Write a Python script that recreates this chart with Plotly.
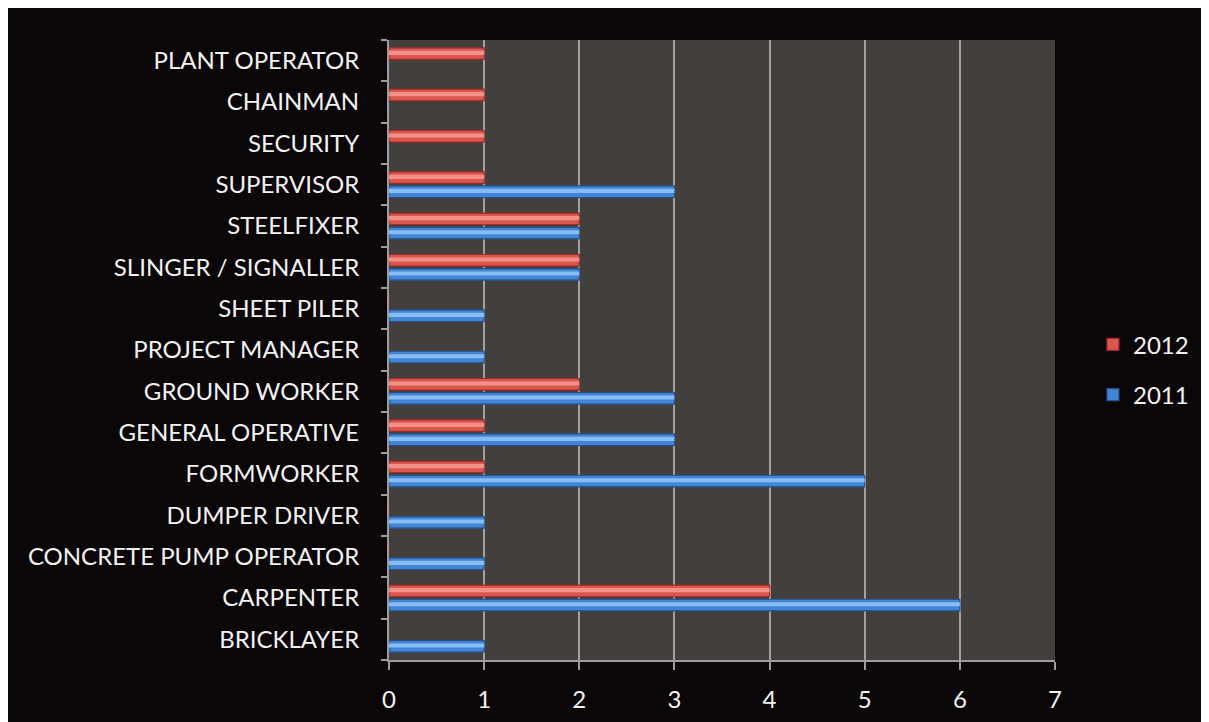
import plotly.graph_objects as go

categories = ["BRICKLAYER", "CARPENTER", "CONCRETE PUMP OPERATOR", "DUMPER DRIVER",
              "FORMWORKER", "GENERAL OPERATIVE", "GROUND WORKER", "PROJECT MANAGER",
              "SHEET PILER", "SLINGER / SIGNALLER", "STEELFIXER", "SUPERVISOR",
              "SECURITY", "CHAINMAN", "PLANT OPERATOR"]
values_2011 = [1, 6, 1, 1, 5, 3, 3, 1, 1, 2, 2, 3, 0, 0, 0]
values_2012 = [0, 4, 0, 0, 1, 1, 2, 0, 0, 2, 2, 1, 1, 1, 1]
x_ticks = [0, 1, 2, 3, 4, 5, 6, 7]

FONT = "Lato"
FS = 24
fig = go.Figure()

# base bars
fig.add_trace(go.Bar(
    y=categories, x=values_2012, orientation="h", name="2012",
    legendgroup="g2012", offset=0.03, width=0.28,
    marker=dict(color="#dc5650", line=dict(color="#9a2b27", width=1.2)),
))
fig.add_trace(go.Bar(
    y=categories, x=values_2011, orientation="h", name="2011",
    legendgroup="g2011", offset=-0.31, width=0.28,
    marker=dict(color="#4384d4", line=dict(color="#24508f", width=1.2)),
))
# cylinder highlights
fig.add_trace(go.Bar(
    y=categories, x=values_2011, orientation="h", showlegend=False, hoverinfo="skip",
    offset=-0.20, width=0.10,
    marker=dict(color="#86bdf2", line=dict(width=0)),
))
fig.add_trace(go.Bar(
    y=categories, x=values_2012, orientation="h", showlegend=False, hoverinfo="skip",
    offset=0.14, width=0.10,
    marker=dict(color="#f4908a", line=dict(width=0)),
))

fig.update_layout(
    width=1217, height=722,
    barmode="overlay",
    paper_bgcolor="#0b0708",
    plot_bgcolor="#433f3c",
    margin=dict(l=381, r=170, t=32, b=70),
    font=dict(family=FONT, color="#f2f2f2", size=FS),
    legend=dict(
        x=1.057, y=0.468, xanchor="left", yanchor="middle",
        traceorder="grouped", tracegroupgap=16,
        font=dict(family=FONT, size=FS, color="#f2f2f2"),
        bgcolor="rgba(0,0,0,0)",
    ),
    showlegend=True,
)

fig.update_xaxes(
    range=[0, 7], tickvals=x_ticks, ticktext=[str(v) for v in x_ticks],
    showgrid=True, gridcolor="#a2a2a2", gridwidth=2,
    showline=True, linecolor="#9c9c9c", linewidth=2,
    ticks="outside", ticklen=8, tickwidth=2, tickcolor="#9c9c9c",
    ticklabelstandoff=9, zeroline=False,
    tickfont=dict(family=FONT, size=FS, color="#f2f2f2"),
)
fig.update_yaxes(
    type="category", categoryorder="array", categoryarray=categories,
    range=[-0.5, len(categories) - 0.5],
    showgrid=False, showline=True, linecolor="#9c9c9c", linewidth=2,
    ticks="outside", ticklen=6, tickwidth=2, tickcolor="#9c9c9c",
    tickson="boundaries", ticklabelstandoff=23,
    tickfont=dict(family=FONT, size=FS, color="#f2f2f2"),
)

fig.write_html("out.html")
